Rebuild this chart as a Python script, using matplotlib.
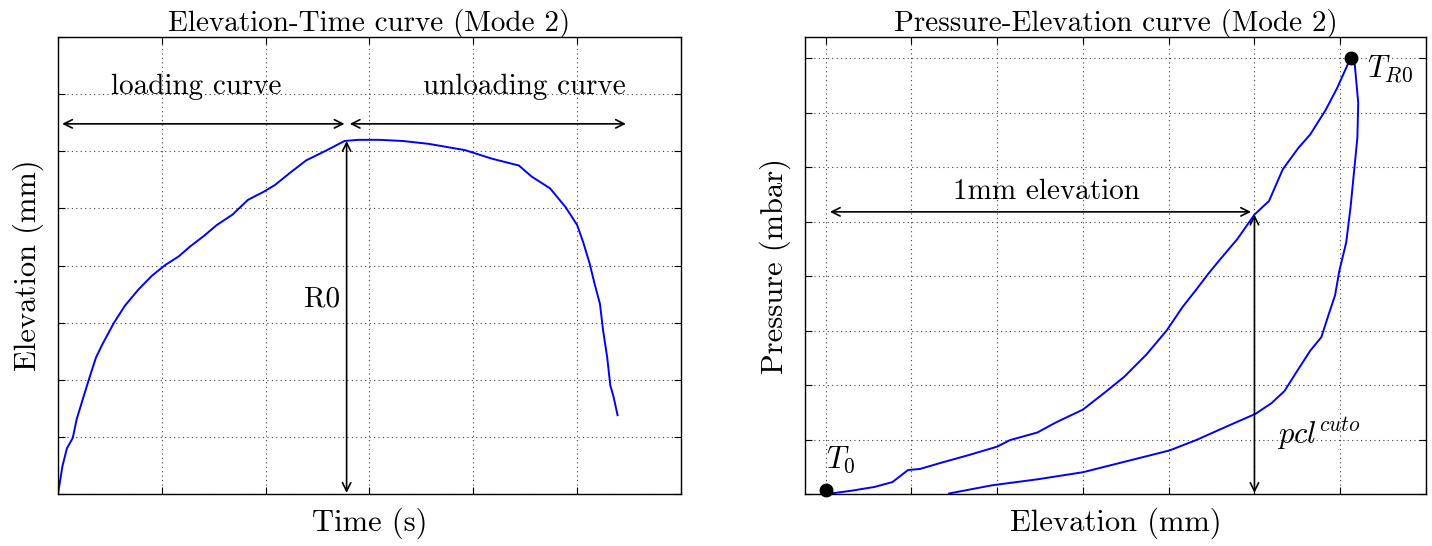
import numpy as np
import matplotlib
matplotlib.use("Agg")
import matplotlib.pyplot as plt

plt.rcParams['font.family'] = ['cmr10', 'DejaVu Serif']
plt.rcParams['mathtext.fontset'] = 'cm'
plt.rcParams['axes.unicode_minus'] = False

# Elevation-Time curve (arbitrary grid units)
time_pts = [0.0, 0.043, 0.086, 0.142, 0.18, 0.237, 0.30, 0.366, 0.43, 0.54, 0.646,
            0.775, 0.904, 1.034, 1.163, 1.27, 1.40, 1.53, 1.68, 1.83, 1.98, 2.09,
            2.24, 2.39, 2.58, 2.76, 2.89, 3.10, 3.32, 3.57, 3.92, 4.18, 4.44, 4.56,
            4.74, 4.89, 5.0, 5.06, 5.12, 5.17, 5.22, 5.25, 5.29, 5.32, 5.35, 5.39]
elev_pts = [0.0, 0.49, 0.80, 0.98, 1.31, 1.65, 2.02, 2.39, 2.63, 3.00, 3.30,
            3.58, 3.82, 4.01, 4.16, 4.33, 4.51, 4.71, 4.89, 5.15, 5.29, 5.41,
            5.63, 5.84, 6.01, 6.18, 6.20, 6.20, 6.18, 6.13, 6.02, 5.87, 5.75, 5.56,
            5.35, 5.02, 4.71, 4.40, 4.04, 3.67, 3.33, 2.87, 2.39, 1.90, 1.71, 1.38]

# Pressure-Elevation curve: loading branch then unloading branch
elev_load = [0.0, 0.06, 0.30, 0.57, 0.78, 0.96, 1.10, 1.36, 1.68, 2.0, 2.15, 2.47,
             2.68, 3.0, 3.26, 3.48, 3.74, 3.98, 4.16, 4.32, 4.46, 4.59, 4.80, 5.0,
             5.17, 5.33, 5.51, 5.65, 5.83, 5.96, 6.12]
pres_load = [0.0, 0.01, 0.06, 0.13, 0.22, 0.44, 0.46, 0.58, 0.72, 0.87, 0.99, 1.13,
             1.31, 1.55, 1.87, 2.15, 2.56, 3.01, 3.43, 3.75, 4.04, 4.29, 4.68, 5.13,
             5.38, 5.96, 6.35, 6.60, 7.05, 7.44, 8.0]
elev_unload = [6.12, 6.17, 6.21, 6.20, 6.16, 6.12, 6.07, 5.99, 5.94, 5.86, 5.78,
               5.65, 5.49, 5.35, 5.20, 5.01, 4.69, 4.32, 4.01, 3.53, 3.0, 2.47,
               1.94, 1.44]
pres_unload = [8.0, 7.88, 7.18, 6.54, 5.90, 5.26, 4.62, 4.10, 3.65, 3.27, 2.88,
               2.63, 2.24, 1.89, 1.67, 1.47, 1.25, 0.99, 0.80, 0.61, 0.40, 0.27,
               0.16, 0.01]

t0 = (0.0, 0.08)
tr0 = (6.12, 8.0)
cutoff_elev = 5.0
cutoff_pres = 5.13

fig = plt.figure(figsize=(14.32, 5.46), dpi=100)
ax1 = fig.add_axes([0.0405, 0.0952, 0.435, 0.837])
ax2 = fig.add_axes([0.562, 0.0952, 0.4338, 0.837])

for ax in (ax1, ax2):
    ax.grid(True, color='0.25', linestyle=(0, (1, 3)), linewidth=0.8)
    ax.tick_params(direction='in', length=5, top=True, right=True,
                   labelbottom=False, labelleft=False)
    for s in ax.spines.values():
        s.set_linewidth(1.0)

arr = dict(arrowstyle='<->', color='k', lw=1.2, shrinkA=0, shrinkB=0,
           mutation_scale=15)

# left panel
ax1.plot(time_pts, elev_pts, color='#0000ff', lw=1.4)
ax1.set_xlim(0, 6)
ax1.set_ylim(0, 8)
ax1.set_xticks(np.arange(0, 7, 1))
ax1.set_yticks(np.arange(0, 9, 1))
ax1.set_title('Elevation-Time curve (Mode 2)', fontsize=21, pad=4)
ax1.set_xlabel('Time (s)', fontsize=22, labelpad=10)
ax1.set_ylabel('Elevation (mm)', fontsize=22, labelpad=10)
ax1.annotate('', xy=(0.04, 6.48), xytext=(2.76, 6.48), arrowprops=arr)
ax1.annotate('', xy=(2.81, 6.48), xytext=(5.47, 6.48), arrowprops=arr)
ax1.annotate('', xy=(2.78, 6.18), xytext=(2.78, 0.02), arrowprops=arr)
ax1.text(1.33, 7.13, 'loading curve', fontsize=21, ha='center', va='center')
ax1.text(4.49, 7.13, 'unloading curve', fontsize=21, ha='center', va='center')
ax1.text(2.72, 3.4, 'R0', fontsize=21, ha='right', va='center')

# right panel
ax2.plot(elev_load, pres_load, color='#0000ff', lw=1.4)
ax2.plot(elev_unload, pres_unload, color='#0000ff', lw=1.4)
ax2.plot(*t0, 'ko', ms=9, clip_on=False)
ax2.plot(*tr0, 'ko', ms=9, clip_on=False)
ax2.set_xlim(-0.243, 7.0)
ax2.set_ylim(0, 8.39)
ax2.set_xticks(np.arange(0, 8, 1))
ax2.set_yticks(np.arange(0, 9, 1))
ax2.set_title('Pressure-Elevation curve (Mode 2)', fontsize=21, pad=4)
ax2.set_xlabel('Elevation (mm)', fontsize=22, labelpad=10)
ax2.set_ylabel('Pressure (mbar)', fontsize=22, labelpad=10)
ax2.annotate('', xy=(0.05, 5.18), xytext=(4.96, 5.18), arrowprops=arr)
ax2.annotate('', xy=(cutoff_elev, cutoff_pres), xytext=(cutoff_elev, 0.02),
             arrowprops=arr)
ax2.text(2.58, 5.54, '1mm elevation', fontsize=21, ha='center', va='center')
ax2.text(5.26, 1.1, r'$pcl^{cuto}$', fontsize=22, ha='left', va='center')
ax2.text(0.0, 0.62, r'$T_0$', fontsize=22, ha='left', va='center')
ax2.text(6.31, 7.8, r'$T_{R0}$', fontsize=22, ha='left', va='center')

fig.savefig('out.png', dpi=100)
